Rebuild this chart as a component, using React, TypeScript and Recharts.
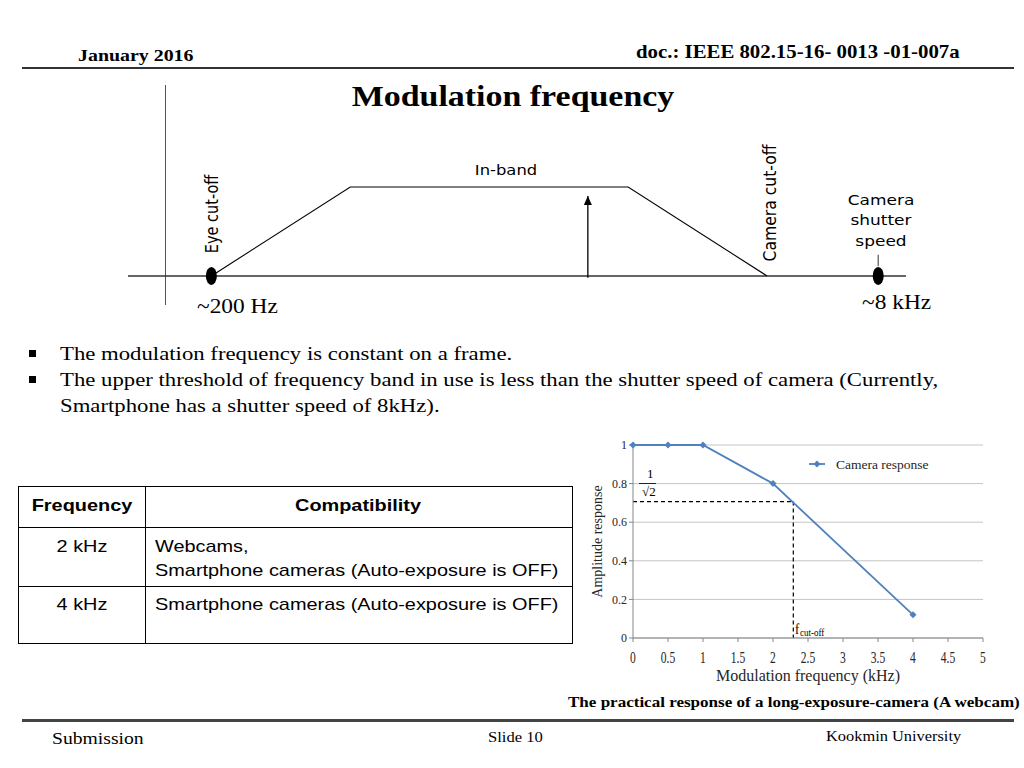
import React from 'react';
import {
  LineChart,
  Line,
  XAxis,
  YAxis,
  CartesianGrid,
  ReferenceLine,
  ReferenceDot,
  Legend,
} from 'recharts';

// camera response chart (right, bottom)
const freqKHz = [0, 0.5, 1, 2, 4];
const amplitude = [1, 1, 1, 0.8, 0.12];
const freqTicks = [0, 0.5, 1, 1.5, 2, 2.5, 3, 3.5, 4, 4.5, 5];
const ampTicks = [0, 0.2, 0.4, 0.6, 0.8, 1];
const cutoffFreq = 2.29;
const cutoffAmp = 0.707;

// band diagram (top), arbitrary units along the frequency axis
const bandPos = [0, 1, 3, 4];
const bandLevel = [0, 1, 1, 0];
const signalPos = 2.71;
const signalLevel = [-0.02, 0.9];
const eyeCutoffPos = 0;
const shutterPos = 4.8;
const axisPos = -0.33;

const tableRows = [
  { freq: '2 kHz', compat: ['Webcams,', 'Smartphone cameras (Auto-exposure is OFF)'] },
  { freq: '4 kHz', compat: ['Smartphone cameras (Auto-exposure is OFF)'] },
];

const responseData = freqKHz.map((f, i) => ({ f, amp: amplitude[i] }));
const bandData = bandPos.map((x, i) => ({ x, y: bandLevel[i] }));
const arrowData = signalLevel.map((y) => ({ x: signalPos, y }));

const SERIF = '"Liberation Serif", "Times New Roman", serif';
const SANS = '"Liberation Sans", Arial, sans-serif';
const DEJAVU = '"DejaVu Sans", Verdana, sans-serif';
const BLUE = '#4f81bd';
const S = 1.17; // the slide is a little stretched sideways

function Txt({ x, y, size, bold = false, family = SERIF, anchor = 'start', rotate = false, sx = S, color = '#000', children }: any) {
  const tx = anchor === 'middle' ? '-50%' : '0';
  const transform = rotate
    ? `translate(-50%, -50%) scaleX(${sx}) rotate(-90deg)`
    : `translate(${tx}, -50%) scaleX(${sx})`;
  return (
    <div
      style={{
        position: 'absolute',
        left: x,
        top: y,
        fontSize: size,
        fontWeight: bold ? 700 : 400,
        fontFamily: family,
        color,
        whiteSpace: 'nowrap',
        lineHeight: 1,
        transformOrigin: anchor === 'middle' || rotate ? 'center' : 'left center',
        transform,
      }}
    >
      {children}
    </div>
  );
}

function HLine({ x, y, w, h = 1.5, color = '#000' }: any) {
  return <div style={{ position: 'absolute', left: x, top: y, width: w, height: h, background: color }} />;
}

function VLine({ x, y, h, w = 1.5, color = '#000' }: any) {
  return <div style={{ position: 'absolute', left: x, top: y, width: w, height: h, background: color }} />;
}

const Blob = (p: any) => <ellipse cx={p.cx} cy={p.cy} rx={5.5} ry={9} fill="#000" />;

const arrowHead = (p: any) => {
  if (p.index !== arrowData.length - 1) return <g key={`a-${p.index}`} />;
  return (
    <path
      key="head"
      d={`M${p.cx},${p.cy} L${p.cx - 4},${p.cy + 9} L${p.cx + 4},${p.cy + 9} Z`}
      fill="#000"
    />
  );
};

const Diamond = (p: any) => (
  <path
    key={`d-${p.index}`}
    d={`M${p.cx},${p.cy - 3.5} L${p.cx + 3.5},${p.cy} L${p.cx},${p.cy + 3.5} L${p.cx - 3.5},${p.cy} Z`}
    fill={BLUE}
  />
);

const NarrowTick = (p: any) => (
  <g transform={`translate(${p.x},${p.y})`}>
    <text transform="scale(0.72,1)" textAnchor="middle" dy={19} fontSize={16} fill="#262626" fontFamily={SERIF}>
      {p.payload.value}
    </text>
  </g>
);

const renderLegend = () => (
  <svg width={130} height={20}>
    <line x1={4} y1={10} x2={20} y2={10} stroke={BLUE} strokeWidth={1.8} />
    <path d="M12,6.5 L15.5,10 L12,13.5 L8.5,10 Z" fill={BLUE} />
    <text x={31} y={14.5} fontSize={13.5} fontFamily={SERIF} fill="#262626">
      Camera response
    </text>
  </svg>
);

function BandDiagram() {
  return (
    <div style={{ position: 'absolute', left: 128, top: 85 }}>
      <LineChart width={778} height={220} margin={{ top: 0, right: 0, bottom: 0, left: 0 }}>
        <XAxis type="number" dataKey="x" domain={[-0.6, 5]} allowDataOverflow hide />
        <YAxis type="number" domain={[-0.326, 2.146]} allowDataOverflow hide />
        <ReferenceLine x={axisPos} stroke="#555" strokeWidth={1} />
        <ReferenceLine y={0} stroke="#333" strokeWidth={1.6} />
        <ReferenceLine
          segment={[{ x: shutterPos, y: 0.11 }, { x: shutterPos, y: 0.24 }]}
          stroke="#555"
          strokeWidth={1.2}
        />
        <Line
          data={bandData}
          dataKey="y"
          type="linear"
          stroke="#000"
          strokeWidth={1.1}
          dot={false}
          isAnimationActive={false}
        />
        <Line
          data={arrowData}
          dataKey="y"
          type="linear"
          stroke="#000"
          strokeWidth={1.3}
          dot={arrowHead}
          isAnimationActive={false}
        />
        <ReferenceDot x={eyeCutoffPos} y={0} r={9} shape={Blob} />
        <ReferenceDot x={shutterPos} y={0} r={9} shape={Blob} />
      </LineChart>
    </div>
  );
}

function ResponseChart() {
  return (
    <div style={{ position: 'absolute', left: 583, top: 430 }}>
      <LineChart width={420} height={265} data={responseData} margin={{ top: 15, right: 20, left: 10, bottom: 9 }}>
        <CartesianGrid vertical={false} stroke="#c4c4c4" />
        <XAxis
          type="number"
          dataKey="f"
          domain={[0, 5]}
          ticks={freqTicks}
          interval={0}
          height={48}
          tickSize={4}
          tickMargin={2}
          stroke="#868686"
          tick={NarrowTick}
          label={{
            value: 'Modulation frequency (kHz)',
            position: 'insideBottom',
            offset: 5,
            style: { fontSize: 16, fill: '#262626', fontFamily: SERIF },
          }}
        />
        <YAxis
          type="number"
          domain={[0, 1]}
          ticks={ampTicks}
          interval={0}
          width={40}
          tickSize={4}
          tickMargin={2}
          stroke="#868686"
          tick={{ fontSize: 12, fill: '#262626', fontFamily: SERIF }}
          label={{
            value: 'Amplitude response',
            angle: -90,
            position: 'insideLeft',
            offset: 4,
            style: { textAnchor: 'middle', fontSize: 14, fill: '#262626', fontFamily: SERIF },
          }}
        />
        <ReferenceLine
          segment={[{ x: 0, y: cutoffAmp }, { x: cutoffFreq, y: cutoffAmp }]}
          stroke="#000"
          strokeWidth={1.2}
          strokeDasharray="4 3"
        />
        <ReferenceLine
          segment={[{ x: cutoffFreq, y: cutoffAmp }, { x: cutoffFreq, y: 0 }]}
          stroke="#000"
          strokeWidth={1.2}
          strokeDasharray="4 3"
        />
        <Line
          dataKey="amp"
          type="linear"
          stroke={BLUE}
          strokeWidth={1.8}
          dot={Diamond}
          isAnimationActive={false}
        />
        <Legend
          layout="horizontal"
          verticalAlign="middle"
          align="center"
          wrapperStyle={{ left: 222, top: 24, width: 'auto' }}
          content={renderLegend}
        />
      </LineChart>
    </div>
  );
}

export default function App() {
  return (
    <div
      style={{
        position: 'absolute',
        left: 0,
        top: 0,
        width: 1024,
        height: 768,
        background: '#fff',
        overflow: 'hidden',
        fontFamily: SERIF,
      }}
    >
      {/* header */}
      <Txt x={78} y={55} size={17} bold>January 2016</Txt>
      <Txt x={636} y={53} size={17.8} bold>doc.: IEEE 802.15-16- 0013 -01-007a</Txt>
      <HLine x={22} y={67} w={992} h={2} color="#333" />
      <Txt x={513} y={96} size={29} bold anchor="middle">Modulation frequency</Txt>

      {/* band diagram */}
      <BandDiagram />
      <Txt x={506} y={170} size={14} family={DEJAVU} anchor="middle">In-band</Txt>
      <Txt x={212} y={214} size={14.5} family={DEJAVU} rotate>Eye cut-off</Txt>
      <Txt x={771} y={203} size={15.6} family={DEJAVU} rotate>Camera cut-off</Txt>
      <Txt x={881} y={200} size={14.5} family={DEJAVU} anchor="middle">Camera</Txt>
      <Txt x={881} y={220} size={14.5} family={DEJAVU} anchor="middle">shutter</Txt>
      <Txt x={881} y={241} size={14.5} family={DEJAVU} anchor="middle">speed</Txt>
      <Txt x={197} y={306} size={20}>~200 Hz</Txt>
      <Txt x={862} y={302} size={20}>~8 kHz</Txt>

      {/* bullets */}
      <div style={{ position: 'absolute', left: 29, top: 350, width: 7, height: 7, background: '#000' }} />
      <div style={{ position: 'absolute', left: 29, top: 376, width: 7, height: 7, background: '#000' }} />
      <Txt x={60} y={354} size={19.45}>The modulation frequency is constant on a frame.</Txt>
      <Txt x={60} y={380} size={19.45}>
        The upper threshold of frequency band in use is less than the shutter speed of camera (Currently,
      </Txt>
      <Txt x={60} y={406} size={19.45}>Smartphone has a shutter speed of 8kHz).</Txt>

      {/* table */}
      <div
        style={{
          position: 'absolute',
          left: 18,
          top: 486,
          width: 555,
          height: 158,
          border: '1.5px solid #000',
          boxSizing: 'border-box',
        }}
      />
      <VLine x={144.5} y={486} h={158} />
      <HLine x={18} y={526.5} w={555} />
      <HLine x={18} y={585.5} w={555} />
      <Txt x={82} y={505} size={17} family={SANS} bold anchor="middle">Frequency</Txt>
      <Txt x={358} y={505} size={17} family={SANS} bold anchor="middle">Compatibility</Txt>
      <Txt x={82} y={546} size={17} family={SANS} anchor="middle">{tableRows[0].freq}</Txt>
      <Txt x={155} y={546} size={17} family={SANS}>{tableRows[0].compat[0]}</Txt>
      <Txt x={155} y={570} size={17} family={SANS}>{tableRows[0].compat[1]}</Txt>
      <Txt x={82} y={604} size={17} family={SANS} anchor="middle">{tableRows[1].freq}</Txt>
      <Txt x={155} y={604} size={17} family={SANS}>{tableRows[1].compat[0]}</Txt>

      {/* camera response chart */}
      <ResponseChart />
      <Txt x={647} y={473} size={13} sx={1}>1</Txt>
      <HLine x={639} y={483} w={17} h={1} color="#222" />
      <Txt x={642} y={491} size={13} sx={1}>√2</Txt>
      <Txt x={795} y={629} size={15} sx={0.85}>f</Txt>
      <Txt x={800} y={633} size={10} sx={0.9}>cut-off</Txt>
      <Txt x={568} y={702} size={14.55} bold>The practical response of a long-exposure-camera (A webcam)</Txt>

      {/* footer */}
      <HLine x={22} y={719} w={992} h={3} color="#444" />
      <Txt x={52} y={739} size={16.8}>Submission</Txt>
      <Txt x={488} y={737} size={14.2}>Slide 10</Txt>
      <Txt x={826} y={737} size={14}>Kookmin University</Txt>
    </div>
  );
}
